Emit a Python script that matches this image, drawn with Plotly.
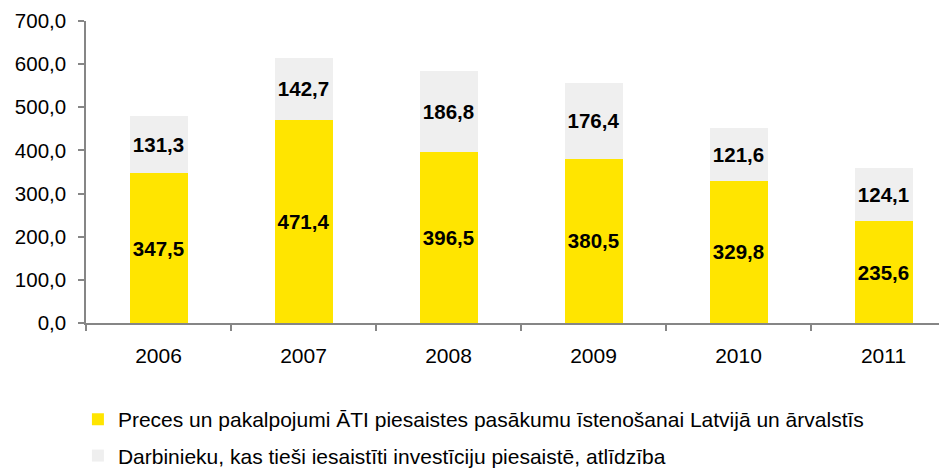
import plotly.graph_objects as go

years = ["2006", "2007", "2008", "2009", "2010", "2011"]
goods_services = [347.5, 471.4, 396.5, 380.5, 329.8, 235.6]
staff_pay = [131.3, 142.7, 186.8, 176.4, 121.6, 124.1]
name_goods = "Preces un pakalpojumi ĀTI piesaistes pasākumu īstenošanai Latvijā un ārvalstīs"
name_staff = "Darbinieku, kas tieši iesaistīti investīciju piesaistē, atlīdzība"
y_ticks = [0, 100, 200, 300, 400, 500, 600, 700]

FONT = "Liberation Sans, Arial, sans-serif"

fig = go.Figure()
fig.add_trace(go.Bar(
    x=years, y=goods_services, name=name_goods, legendgroup="a",
    marker=dict(color="#FFE500", line=dict(width=0)),
    texttemplate="%{y:.1f}", textposition="inside", insidetextanchor="middle",
    textangle=0,
    textfont=dict(family=FONT, size=20.5, color="#000000", weight="bold"),
))
fig.add_trace(go.Bar(
    x=years, y=staff_pay, name=name_staff, legendgroup="b",
    marker=dict(color="#EFEFEF", line=dict(width=0)),
    texttemplate="%{y:.1f}", textposition="inside", insidetextanchor="middle",
    textangle=0,
    textfont=dict(family=FONT, size=20.5, color="#000000", weight="bold"),
))

fig.update_layout(
    width=947, height=490,
    barmode="stack", bargap=0.6,
    separators=", ",
    paper_bgcolor="white", plot_bgcolor="white",
    margin=dict(l=78, r=0, t=13, b=175),
    font=dict(family=FONT, size=21, color="#000000"),
    showlegend=True,
    legend=dict(
        orientation="v", x=-0.0093, xanchor="left", y=-0.252, yanchor="top",
        font=dict(family=FONT, size=21, color="#000000"),
        tracegroupgap=6, traceorder="grouped", bgcolor="rgba(0,0,0,0)",
    ),
    xaxis=dict(
        type="category", range=[-0.5, 5.493], automargin=False,
        showline=True, linecolor="#868686", linewidth=1.5,
        ticks="outside", tickson="boundaries", ticklen=6, tickcolor="#868686",
        tickwidth=1.5, showgrid=False, zeroline=False,
        ticklabelstandoff=13,
        tickfont=dict(family=FONT, size=21, color="#000000"),
    ),
    yaxis=dict(
        range=[0, 700], tickvals=y_ticks, tickformat=".1f", automargin=False,
        showline=True, linecolor="#868686", linewidth=1.5,
        ticks="outside", ticklen=6, tickcolor="#868686", tickwidth=1.5,
        showgrid=False, zeroline=False, ticklabelstandoff=8,
        tickfont=dict(family=FONT, size=20.5, color="#000000"),
    ),
)

fig.write_html("out.html")
